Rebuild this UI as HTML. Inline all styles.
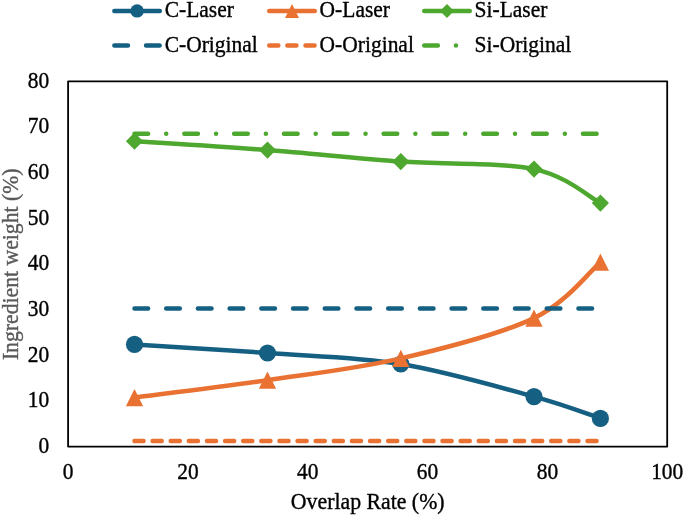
<!DOCTYPE html>
<html><head><meta charset="utf-8"><style>
html,body{margin:0;padding:0;background:#fff;width:685px;height:516px;overflow:hidden}
svg{display:block;filter:blur(0.45px)}
.t{font-family:"Liberation Serif",serif;font-size:21.8px;fill:#000;stroke:#000;stroke-width:0.35px}
</style></head><body>
<svg width="685" height="516" viewBox="0 0 685 516">
<rect x="68.1" y="81.4" width="599.10" height="365.20" fill="none" stroke="#000" stroke-width="1.8" stroke-linejoin="round"/>
<path d="M134.50,344.40 C156.67,345.83 223.12,349.73 267.50,353.00 C311.88,356.27 356.38,356.73 400.80,364.00 C445.22,371.27 500.73,387.53 534.00,396.60 C567.27,405.67 589.33,414.77 600.40,418.40" fill="none" stroke="#156082" stroke-width="4.53" stroke-linecap="round"/>
<circle cx="134.50" cy="344.40" r="8.6" fill="#156082"/>
<circle cx="267.50" cy="353.00" r="8.6" fill="#156082"/>
<circle cx="400.80" cy="364.00" r="8.6" fill="#156082"/>
<circle cx="534.00" cy="396.60" r="8.6" fill="#156082"/>
<circle cx="600.40" cy="418.40" r="8.6" fill="#156082"/>
<path d="M134.50,397.60 C156.67,394.70 223.12,386.73 267.50,380.20 C311.88,373.67 356.38,368.75 400.80,358.40 C445.22,348.05 500.73,334.13 534.00,318.10 C567.27,302.07 589.33,271.52 600.40,262.20" fill="none" stroke="#E97132" stroke-width="4.53" stroke-linecap="round"/>
<path d="M134.50,389.00 L143.10,406.20 L125.90,406.20 Z" fill="#E97132"/>
<path d="M267.50,371.60 L276.10,388.80 L258.90,388.80 Z" fill="#E97132"/>
<path d="M400.80,349.80 L409.40,367.00 L392.20,367.00 Z" fill="#E97132"/>
<path d="M534.00,309.50 L542.60,326.70 L525.40,326.70 Z" fill="#E97132"/>
<path d="M600.40,253.60 L609.00,270.80 L591.80,270.80 Z" fill="#E97132"/>
<path d="M134.50,141.20 C156.67,142.68 223.12,146.70 267.50,150.10 C311.88,153.50 356.38,158.43 400.80,161.60 C445.22,164.77 500.73,162.18 534.00,169.10 C567.27,176.02 589.33,197.43 600.40,203.10" fill="none" stroke="#4EA72E" stroke-width="4.53" stroke-linecap="round"/>
<path d="M134.50,132.60 L143.10,141.20 L134.50,149.80 L125.90,141.20 Z" fill="#4EA72E"/>
<path d="M267.50,141.50 L276.10,150.10 L267.50,158.70 L258.90,150.10 Z" fill="#4EA72E"/>
<path d="M400.80,153.00 L409.40,161.60 L400.80,170.20 L392.20,161.60 Z" fill="#4EA72E"/>
<path d="M534.00,160.50 L542.60,169.10 L534.00,177.70 L525.40,169.10 Z" fill="#4EA72E"/>
<path d="M600.40,194.50 L609.00,203.10 L600.40,211.70 L591.80,203.10 Z" fill="#4EA72E"/>
<line x1="134.5" y1="308.5" x2="600.4" y2="308.5" stroke="#156082" stroke-width="4.53" stroke-linecap="round" stroke-dasharray="13.59 18.12"/>
<line x1="134.5" y1="441.0" x2="600.4" y2="441.0" stroke="#E97132" stroke-width="4.53" stroke-linecap="round" stroke-dasharray="9.06 9.06"/>
<line x1="134.5" y1="133.7" x2="600.4" y2="133.7" stroke="#4EA72E" stroke-width="4.53" stroke-linecap="round" stroke-dasharray="13.59 18.12 0 18.12"/>
<text transform="translate(49.20,453.00) scale(1,1.06)" text-anchor="end" class="t" style="font-size:21.4px">0</text>
<text transform="translate(49.20,407.35) scale(1,1.06)" text-anchor="end" class="t" style="font-size:21.4px">10</text>
<text transform="translate(49.20,361.70) scale(1,1.06)" text-anchor="end" class="t" style="font-size:21.4px">20</text>
<text transform="translate(49.20,316.05) scale(1,1.06)" text-anchor="end" class="t" style="font-size:21.4px">30</text>
<text transform="translate(49.20,270.40) scale(1,1.06)" text-anchor="end" class="t" style="font-size:21.4px">40</text>
<text transform="translate(49.20,224.75) scale(1,1.06)" text-anchor="end" class="t" style="font-size:21.4px">50</text>
<text transform="translate(49.20,179.10) scale(1,1.06)" text-anchor="end" class="t" style="font-size:21.4px">60</text>
<text transform="translate(49.20,133.45) scale(1,1.06)" text-anchor="end" class="t" style="font-size:21.4px">70</text>
<text transform="translate(49.20,87.80) scale(1,1.06)" text-anchor="end" class="t" style="font-size:21.4px">80</text>
<text transform="translate(68.10,479.10) scale(1,1.06)" text-anchor="middle" class="t" style="font-size:21.4px">0</text>
<text transform="translate(187.92,479.10) scale(1,1.06)" text-anchor="middle" class="t" style="font-size:21.4px">20</text>
<text transform="translate(307.74,479.10) scale(1,1.06)" text-anchor="middle" class="t" style="font-size:21.4px">40</text>
<text transform="translate(427.56,479.10) scale(1,1.06)" text-anchor="middle" class="t" style="font-size:21.4px">60</text>
<text transform="translate(547.38,479.10) scale(1,1.06)" text-anchor="middle" class="t" style="font-size:21.4px">80</text>
<text transform="translate(667.20,479.10) scale(1,1.06)" text-anchor="middle" class="t" style="font-size:21.4px">100</text>
<text transform="translate(367.70,508.80) scale(1,1.06)" text-anchor="middle" class="t" style="font-size:21.8px">Overlap Rate (%)</text>
<text transform="translate(18.00,264.30) rotate(-90) scale(1,1.06)" text-anchor="middle" class="t" style="font-size:21.7px;fill:#595959;stroke:#595959">Ingredient weight (%)</text>
<line x1="114.36" y1="10.9" x2="159.84" y2="10.9" stroke="#156082" stroke-width="4.53" stroke-linecap="round"/>
<circle cx="137.10" cy="10.90" r="6.7" fill="#156082"/>
<line x1="114.36" y1="45.6" x2="159.84" y2="45.6" stroke="#156082" stroke-width="4.53" stroke-linecap="round" stroke-dasharray="13.59 18.12"/>
<text transform="translate(164.70,17.20) scale(1,1.06)" text-anchor="start" class="t" style="font-size:21.5px">C-Laser</text>
<text transform="translate(164.70,51.60) scale(1,1.06)" text-anchor="start" class="t" style="font-size:21.5px">C-Original</text>
<line x1="269.26" y1="10.9" x2="314.74" y2="10.9" stroke="#E97132" stroke-width="4.53" stroke-linecap="round"/>
<path d="M292.00,3.90 L299.00,17.90 L285.00,17.90 Z" fill="#E97132"/>
<line x1="269.26" y1="45.6" x2="314.74" y2="45.6" stroke="#E97132" stroke-width="4.53" stroke-linecap="round" stroke-dasharray="9.06 9.06"/>
<text transform="translate(319.60,17.20) scale(1,1.06)" text-anchor="start" class="t" style="font-size:21.5px">O-Laser</text>
<text transform="translate(319.60,51.60) scale(1,1.06)" text-anchor="start" class="t" style="font-size:21.5px">O-Original</text>
<line x1="424.26" y1="10.9" x2="469.74" y2="10.9" stroke="#4EA72E" stroke-width="4.53" stroke-linecap="round"/>
<path d="M447.00,3.90 L454.00,10.90 L447.00,17.90 L440.00,10.90 Z" fill="#4EA72E"/>
<line x1="424.26" y1="45.6" x2="469.74" y2="45.6" stroke="#4EA72E" stroke-width="4.53" stroke-linecap="round" stroke-dasharray="13.59 18.12 0 18.12"/>
<text transform="translate(474.60,17.20) scale(1,1.06)" text-anchor="start" class="t" style="font-size:21.5px">Si-Laser</text>
<text transform="translate(474.60,51.60) scale(1,1.06)" text-anchor="start" class="t" style="font-size:21.5px">Si-Original</text>
</svg>
</body></html>
